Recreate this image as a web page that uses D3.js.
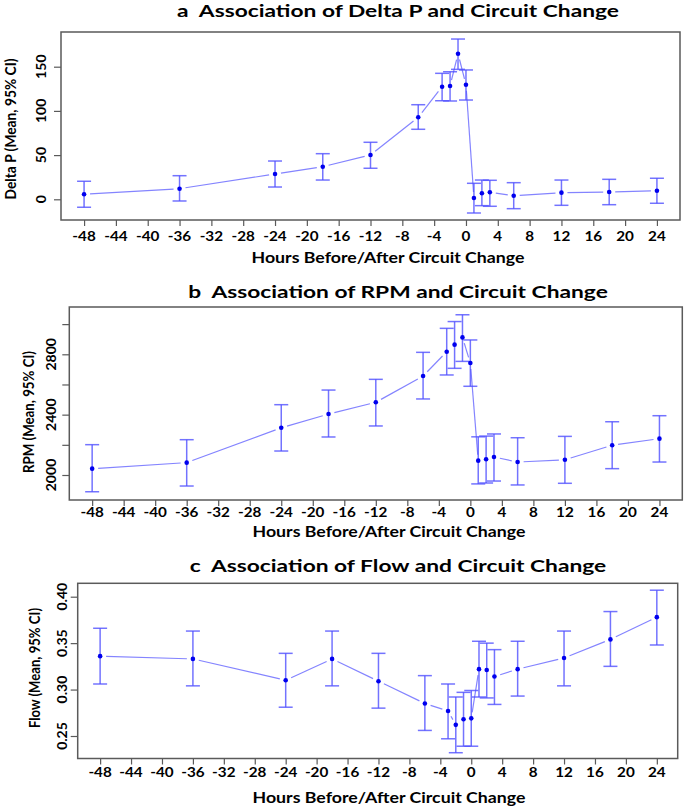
<!DOCTYPE html>
<html>
<head>
<meta charset="utf-8">
<script src="https://cdn.jsdelivr.net/npm/d3@7"></script>
<style>
  html, body { margin: 0; padding: 0; background: #fff; }
  svg { display: block; }
  text { font-family: Lato, "Open Sans", sans-serif; font-weight: 700; fill: #000; white-space: pre; }
</style>
</head>
<body>
<svg id="chart" width="685" height="806"></svg>
<script>
// ---------------- DATA ----------------
const hours = [-48, -36, -24, -18, -12, -6, -3, -2, -1, 0, 1, 2, 3, 6, 12, 18, 24];

const deltaPMean  = [5.7, 12.0, 28.6, 36.9, 50.1, 92.8, 127.4, 128.2, 164.7, 129.6, 1.5, 6.8, 7.9, 4.1, 7.5, 8.3, 9.7];
const deltaPLower = [-9.0, -1.9, 13.9, 21.8, 35.1, 79.2, 111.5, 111.2, 147.0, 112.3, -15.5, -7.2, -7.9, -10.6, -6.8, -6.1, -4.5];
const deltaPUpper = [20.4, 26.7, 43.3, 51.6, 64.5, 107.0, 142.5, 144.3, 181.3, 146.3, 18.1, 21.8, 21.5, 18.8, 21.8, 22.6, 23.8];

const rpmMean  = [2042, 2082, 2313, 2404, 2482, 2656, 2817, 2864, 2912, 2742, 2095, 2104, 2119, 2086, 2101, 2197, 2241];
const rpmLower = [1889, 1927, 2159, 2252, 2325, 2504, 2663, 2707, 2753, 2588, 1941, 1947, 1960, 1934, 1945, 2042, 2086];
const rpmUpper = [2201, 2234, 2466, 2563, 2634, 2813, 2972, 3017, 3062, 2895, 2253, 2258, 2272, 2247, 2256, 2353, 2393];

const flowMean  = [0.336, 0.333, 0.310, 0.333, 0.309, 0.285, 0.277, 0.262, 0.268, 0.269, 0.322, 0.321, 0.314, 0.322, 0.334, 0.354, 0.378];
const flowLower = [0.306, 0.304, 0.281, 0.304, 0.280, 0.256, 0.247, 0.232, 0.239, 0.239, 0.292, 0.291, 0.284, 0.293, 0.304, 0.325, 0.348];
const flowUpper = [0.366, 0.363, 0.339, 0.363, 0.339, 0.315, 0.306, 0.292, 0.297, 0.299, 0.352, 0.350, 0.343, 0.352, 0.363, 0.384, 0.407];

const xTickValues = [-48, -44, -40, -36, -32, -28, -24, -20, -16, -12, -8, -4, 0, 4, 8, 12, 16, 20, 24];
const deltaPTicks = [0, 50, 100, 150];
const rpmTicks = [2000, 2200, 2400, 2600, 2800, 3000];
const rpmTickLabels = ["2000", "", "2400", "", "2800", ""];
const flowTicks = [0.25, 0.30, 0.35, 0.40];
const flowTickLabels = ["0.25", "0.30", "0.35", "0.40"];

const titles = [
  "a  Association of Delta P and Circuit Change",
  "b  Association of RPM and Circuit Change",
  "c  Association of Flow and Circuit Change"
];
const xLabel = "Hours Before/After Circuit Change";
const yLabels = ["Delta P (Mean, 95% CI)", "RPM (Mean, 95% CI)", "Flow (Mean, 95% CI)"];

// ---------------- LAYOUT ----------------
const svg = d3.select("#chart");

const panels = [
  {
    mean: deltaPMean, lower: deltaPLower, upper: deltaPUpper,
    yTicks: deltaPTicks, yTickLabels: deltaPTicks.map(String),
    box: {left: 61, right: 680, top: 32, bottom: 220},
    xDom: [-50.9, 26.9], yAnchor: [[0, 199.3], [150, 66.7]],
    title: titles[0], titleY: 11, titleX: 398,
    xTickY: 236.5, xLabelY: 257, xLabelX: 388,
    yLabel: yLabels[0], yLabelX: 11, yLabelY: 129, yLabelLen: 141,
    yTickX: 41.7
  },
  {
    mean: rpmMean, lower: rpmLower, upper: rpmUpper,
    yTicks: rpmTicks, yTickLabels: rpmTickLabels,
    box: {left: 69.3, right: 682.3, top: 307, bottom: 500},
    xDom: [-50.9, 26.9], yAnchor: [[2000, 475], [2800, 354.3]],
    title: titles[1], titleY: 292, titleX: 398,
    xTickY: 513, xLabelY: 531, xLabelX: 389,
    yLabel: yLabels[1], yLabelX: 28.5, yLabelY: 412, yLabelLen: 122,
    yTickX: 51.7
  },
  {
    mean: flowMean, lower: flowLower, upper: flowUpper,
    yTicks: flowTicks, yTickLabels: flowTickLabels,
    box: {left: 77.7, right: 677.7, top: 583.3, bottom: 758.5},
    xDom: [-50.9, 26.7], yAnchor: [[0.40, 596.7], [0.25, 736]],
    title: titles[2], titleY: 566, titleX: 398,
    xTickY: 773, xLabelY: 797, xLabelX: 389,
    yLabel: yLabels[2], yLabelX: 35, yLabelY: 668, yLabelLen: 120,
    yTickX: 62.7
  }
];

const lineColor = "#8484ff";
const barColor = "#5050ff";
const dotColor = "#0000ee";
const frameColor = "#5a5a5a";

// horizontal stretch helpers (reference text is wider than its height suggests)
function stretch(sel, factor) {
  sel.each(function () {
    const w = this.getComputedTextLength();
    if (w > 0) d3.select(this).attr("textLength", w * factor).attr("lengthAdjust", "spacingAndGlyphs");
  });
}
function fitTo(sel, len) {
  sel.attr("textLength", len).attr("lengthAdjust", "spacingAndGlyphs");
}

let titleFactor = null;

panels.forEach((p, pi) => {
  const b = p.box;
  const x = d3.scaleLinear().domain(p.xDom).range([b.left, b.right]);
  const [[v1, py1], [v2, py2]] = p.yAnchor;
  const yTmp = d3.scaleLinear().domain([v1, v2]).range([py1, py2]);
  const y = d3.scaleLinear().domain([yTmp.invert(b.bottom), yTmp.invert(b.top)]).range([b.bottom, b.top]);

  const g = svg.append("g");

  // x axis ticks (below the box)
  const xAxis = d3.axisBottom(x).tickValues(xTickValues).tickSize(6).tickFormat("");
  const xg = g.append("g").attr("transform", `translate(0,${b.bottom})`).call(xAxis);
  xg.select(".domain").remove();
  xg.selectAll(".tick line").attr("stroke", frameColor).attr("stroke-width", 1.2);

  const xtl = g.selectAll(".xtl").data(xTickValues).enter().append("text")
    .attr("x", d => x(d)).attr("y", p.xTickY).attr("dy", "0.35em")
    .attr("text-anchor", "middle").style("font-size", "12.5px")
    .text(d => String(d));
  stretch(xtl, 1.22);

  // y axis ticks (left of box)
  const yAxis = d3.axisLeft(y).tickValues(p.yTicks).tickSize(7).tickFormat("");
  const yg = g.append("g").attr("transform", `translate(${b.left},0)`).call(yAxis);
  yg.select(".domain").remove();
  yg.selectAll(".tick line").attr("stroke", frameColor).attr("stroke-width", 1.2);

  const ytl = g.selectAll(".ytl").data(p.yTicks).enter().append("text")
    .attr("transform", d => `translate(${p.yTickX},${y(d)}) rotate(-90)`)
    .attr("dy", "0.35em").attr("text-anchor", "middle").style("font-size", "13px")
    .text((d, i) => p.yTickLabels[i]);
  stretch(ytl, 1.08);

  // frame
  g.append("rect").attr("x", b.left).attr("y", b.top)
    .attr("width", b.right - b.left).attr("height", b.bottom - b.top)
    .attr("fill", "none").attr("stroke", frameColor).attr("stroke-width", 1.5);

  // connecting line with gaps around the points (R type="b")
  const pts = hours.map((h, i) => [x(h), y(p.mean[i])]);
  const gap = 6;
  const segs = [];
  for (let i = 0; i < pts.length - 1; i++) {
    const [x0, y0] = pts[i], [x1, y1] = pts[i + 1];
    const dx = x1 - x0, dy = y1 - y0, d = Math.hypot(dx, dy);
    if (d > 2 * gap) {
      const ux = dx / d, uy = dy / d;
      segs.push([[x0 + ux * gap, y0 + uy * gap], [x1 - ux * gap, y1 - uy * gap]]);
    }
  }
  g.selectAll(".seg").data(segs).enter().append("line")
    .attr("x1", d => d[0][0]).attr("y1", d => d[0][1])
    .attr("x2", d => d[1][0]).attr("y2", d => d[1][1])
    .attr("stroke", lineColor).attr("stroke-width", 1.2);

  // error bars
  const cap = 7;
  const eb = g.selectAll(".eb").data(hours).enter().append("g")
    .attr("stroke", barColor).attr("stroke-width", 1.5).attr("stroke-opacity", 0.8);
  eb.append("line").attr("x1", d => x(d)).attr("x2", d => x(d))
    .attr("y1", (d, i) => y(p.lower[i])).attr("y2", (d, i) => y(p.upper[i]));
  eb.append("line").attr("x1", d => x(d) - cap).attr("x2", d => x(d) + cap)
    .attr("y1", (d, i) => y(p.upper[i])).attr("y2", (d, i) => y(p.upper[i]));
  eb.append("line").attr("x1", d => x(d) - cap).attr("x2", d => x(d) + cap)
    .attr("y1", (d, i) => y(p.lower[i])).attr("y2", (d, i) => y(p.lower[i]));

  // points
  g.selectAll(".pt").data(hours).enter().append("circle")
    .attr("cx", d => x(d)).attr("cy", (d, i) => y(p.mean[i])).attr("r", 2.3)
    .attr("fill", dotColor);

  // title
  const t = g.append("text").attr("x", p.titleX).attr("y", p.titleY).attr("dy", "0.35em")
    .attr("text-anchor", "middle").style("font-size", "17px").text(p.title);
  if (titleFactor === null) titleFactor = 442 / t.node().getComputedTextLength();
  stretch(t, titleFactor);

  // x label
  const xl = g.append("text").attr("x", p.xLabelX).attr("y", p.xLabelY).attr("dy", "0.35em")
    .attr("text-anchor", "middle").style("font-size", "16px").text(xLabel);
  fitTo(xl, 273);

  // y label
  const yl = g.append("text").attr("transform", `translate(${p.yLabelX},${p.yLabelY}) rotate(-90)`)
    .attr("dy", "0.35em").attr("text-anchor", "middle").style("font-size", "15.5px")
    .text(p.yLabel);
  fitTo(yl, p.yLabelLen);
});
</script>
</body>
</html>
